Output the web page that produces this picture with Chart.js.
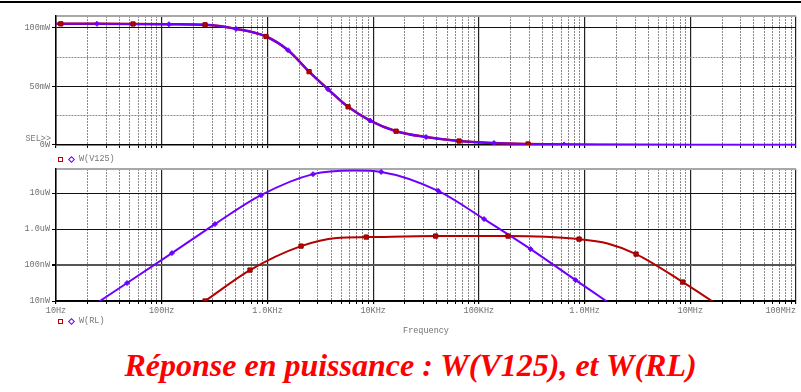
<!DOCTYPE html>
<html lang="fr">
<head>
<meta charset="UTF-8" />
<title>Réponse en puissance</title>
<script src="https://cdn.jsdelivr.net/npm/chart.js"></script>
<style>
  body { margin: 0; width: 801px; height: 392px; background: #fff; position: relative; overflow: hidden; font-family: "Liberation Mono", monospace; }
  .topbar { position: absolute; left: 0; top: 1px; width: 801px; height: 2px; background: #000; }
  #topChart { position: absolute; left: 0; top: 0; }
  #botChart { position: absolute; left: 0; top: 160px; }
  .legend { position: absolute; left: 58px; height: 10px; font-size: 8.5px; color: #777; display: flex; align-items: center; }
  .sq { width: 3px; height: 3px; border: 1.5px solid #c00000; margin-right: 6px; }
  .dia { width: 3px; height: 3px; border: 1.5px solid #6e00ff; transform: rotate(45deg); margin-right: 5px; }
  .sel { position: absolute; right: 750px; top: 134px; font-size: 8.5px; color: #777; }
  .title { position: absolute; left: 10px; top: 347px; width: 801px; text-align: center; color: #ff0000;
           font: italic bold 32px "Liberation Serif", "Times New Roman", serif; }
</style>
</head>
<body>
<div class="topbar"></div>
<canvas id="topChart" width="801" height="152"></canvas>
<canvas id="botChart" width="801" height="180"></canvas>
<div class="sel">SEL&gt;&gt;</div>
<div class="legend" style="top:154px"><span class="sq"></span><span class="dia"></span>W(V125)</div>
<div class="legend" style="top:316px"><span class="sq"></span><span class="dia"></span>W(RL)</div>
<div class="title">Réponse en puissance : W(V125), et W(RL)</div>

<script>
  // ---- data ----
  const freqLabels = ['10Hz', '100Hz', '1.0KHz', '10KHz', '100KHz', '1.0MHz', '10MHz', '100MHz'];
  const topTickLabels = { 0: '0W', 50: '50mW', 100: '100mW' };
  const botTickLabels = ['10nW', '100nW', '1.0uW', '10uW'];

  // top panel : W(V125) in mW (two identical traces)
  const topFreq = [10, 11.1, 24.4, 53.5, 117, 257, 505, 970, 1567, 2477, 3743, 5793, 9354, 16480, 31650, 65000, 139000, 292000, 640000, 1.5e6, 1e7, 1e8];
  const topPow = [103.3, 103.3, 103.3, 103.2, 103.0, 102.5, 99.0, 92.5, 80.8, 62.5, 47.5, 32.5, 20.8, 11.7, 6.7, 3.3, 1.6, 0.8, 0.35, 0.15, 0.02, 0.002];
  const topRedMarks = [11.1, 53.5, 257, 970, 2477, 5793, 16480, 65000, 292000];
  const topBlueMarks = [24.4, 117, 505, 1567, 3743, 9354, 31650, 139000, 640000];

  // bottom panel, blue trace (W)
  const blueFreq = [10, 26, 47, 125, 319, 869, 2700, 6500, 11900, 41200, 112000, 309000, 822000, 1.6e6, 3e6];
  const bluePow = [1.5e-9, 1.0e-8, 3.16e-8, 2.15e-7, 1.38e-6, 8.8e-6, 3.38e-5, 4.27e-5, 3.9e-5, 1.16e-5, 1.9e-6, 2.78e-7, 3.8e-8, 1.0e-8, 2.8e-9];
  const blueMarks = [47, 125, 319, 869, 2700, 11900, 41200, 112000, 309000, 822000];

  // bottom panel, red trace (W)
  const redFreq = [100, 257, 684, 2080, 4500, 8600, 39000, 189000, 887000, 1.65e6, 3.07e6, 8.5e6, 1.6e7, 3e7];
  const redPow = [1.5e-9, 1.0e-8, 7.26e-8, 3.37e-7, 5.7e-7, 6.0e-7, 6.4e-7, 6.4e-7, 5.27e-7, 4.0e-7, 2.02e-7, 3.37e-8, 1.0e-8, 2.8e-9];
  const redMarks = [257, 684, 2080, 8600, 39000, 189000, 887000, 3.07e6, 8.5e6];

  const BLUE = '#6e00ff';
  const RED = '#b30000';
  const TXT = '#707070';
  const MONO = { family: 'Liberation Mono', size: 8.5 };

  const pts = (F, P) => F.map((f, i) => ({ x: f, y: P[i] }));
  const pick = (F, P, marks) => marks.map(m => ({ x: m, y: P[F.indexOf(m)] }));
  const isDecade = v => Math.abs(Math.log10(v) - Math.round(Math.log10(v))) < 1e-6;

  function logTicks(min, max) {
    const t = [];
    for (let e = Math.floor(Math.log10(min)); e <= Math.ceil(Math.log10(max)); e++) {
      for (let m = 1; m < 10; m++) {
        const v = m * Math.pow(10, e);
        if (v >= min * 0.999 && v <= max * 1.001) t.push({ value: v });
      }
    }
    return t;
  }

  // last label is pushed left so it stays inside the window, like the original
  function freqLabel(v) {
    if (!isDecade(v)) return '';
    const i = Math.round(Math.log10(v)) - 1;
    return i === freqLabels.length - 1 ? freqLabels[i] + '      ' : freqLabels[i];
  }

  function xScale(showLabels) {
    return {
      type: 'logarithmic',
      min: 10, max: 1e8,
      afterBuildTicks: s => { s.ticks = logTicks(10, 1e8); },
      afterFit: s => {
        s.height = showLabels ? 39 : 4;
        s.paddingLeft = 0;
        s.paddingRight = 0;
      },
      grid: {
        color: c => (c.tick && isDecade(c.tick.value)) ? '#222' : '#8a8a8a',
        lineWidth: c => (c.tick && isDecade(c.tick.value)) ? 1.2 : 1,
        tickLength: 3,
        tickColor: '#000'
      },
      border: { color: '#000', width: 1.5, dash: c => (c.tick && !isDecade(c.tick.value)) ? [2, 1] : [] },
      ticks: {
        display: showLabels,
        autoSkip: false,
        maxRotation: 0,
        padding: 2,
        color: TXT,
        font: MONO,
        callback: freqLabel
      },
      title: {
        display: showLabels,
        text: 'Frequency',
        color: TXT,
        font: MONO,
        padding: { top: 0, bottom: 4 }
      }
    };
  }

  const common = {
    responsive: false,
    animation: false,
    devicePixelRatio: 1,
    events: [],
    plugins: { legend: { display: false }, tooltip: { enabled: false } },
    elements: { line: { cubicInterpolationMode: 'monotone' } }
  };

  // ---- top panel ----
  new Chart(document.getElementById('topChart'), {
    type: 'line',
    data: {
      datasets: [
        { data: pick(topFreq, topPow, topRedMarks), showLine: false, pointStyle: 'rect', pointRadius: 3, backgroundColor: '#c00000', borderColor: '#8a0000', borderWidth: 1 },
        { data: pick(topFreq, topPow, topBlueMarks), showLine: false, pointStyle: 'rectRot', pointRadius: 2.5, backgroundColor: BLUE, borderColor: BLUE, borderWidth: 1 },
        { data: pts(topFreq, topPow), borderColor: BLUE, borderWidth: 2, pointRadius: 0 },
        { data: pts(topFreq, topPow), borderColor: RED, borderWidth: 2.5, pointRadius: 0 }
      ]
    },
    options: Object.assign({}, common, {
      layout: { padding: { left: 0, right: 5, top: 16, bottom: 0 } },
      scales: {
        x: xScale(false),
        y: {
          min: 0, max: 110,
          afterBuildTicks: s => { s.ticks = [0, 25, 50, 75, 100, 110].map(v => ({ value: v })); },
          afterFit: s => { s.width = 56; },
          grid: {
            color: c => !c.tick ? '#000' : c.tick.value === 110 ? '#a8a8a8' : (c.tick.value % 50 === 0 ? '#111' : '#8a8a8a'),
            lineWidth: c => (c.tick && c.tick.value === 110) ? 2 : 1,
            tickLength: 4,
            tickColor: c => (c.tick && c.tick.value % 50 === 0) ? '#000' : 'rgba(0,0,0,0)'
          },
          border: { color: '#000', width: 1.5, dash: c => (c.tick && c.tick.value % 50 === 25) ? [2, 1] : [] },
          ticks: { padding: 2, color: TXT, font: MONO, callback: v => topTickLabels[v] || '' }
        }
      }
    })
  });

  // ---- bottom panel ----
  new Chart(document.getElementById('botChart'), {
    type: 'line',
    data: {
      datasets: [
        { data: pick(redFreq, redPow, redMarks), showLine: false, pointStyle: 'rect', pointRadius: 3, backgroundColor: '#c00000', borderColor: '#8a0000', borderWidth: 1 },
        { data: pick(blueFreq, bluePow, blueMarks), showLine: false, pointStyle: 'rectRot', pointRadius: 2.5, backgroundColor: BLUE, borderColor: BLUE, borderWidth: 1 },
        { data: pts(blueFreq, bluePow), borderColor: BLUE, borderWidth: 2, pointRadius: 0 },
        { data: pts(redFreq, redPow), borderColor: RED, borderWidth: 2, pointRadius: 0 }
      ]
    },
    options: Object.assign({}, common, {
      layout: { padding: { left: 0, right: 5, top: 9, bottom: 0 } },
      scales: {
        x: xScale(true),
        y: {
          type: 'logarithmic',
          min: 1e-8, max: 4.7e-5,
          afterBuildTicks: s => { s.ticks = [1e-8, 1e-7, 1e-6, 1e-5, 4.7e-5].map(v => ({ value: v })); },
          afterFit: s => { s.width = 56; },
          grid: {
            color: c => (c.tick && !isDecade(c.tick.value)) ? '#a8a8a8' : (c.tick && c.tick.value === 1e-7 ? '#555' : '#111'),
            lineWidth: c => (c.tick && (!isDecade(c.tick.value) || c.tick.value === 1e-7)) ? 2 : 1,
            tickLength: 4,
            tickColor: c => (c.tick && isDecade(c.tick.value)) ? '#000' : 'rgba(0,0,0,0)'
          },
          border: { color: '#000', width: 1.5 },
          ticks: {
            padding: 2, color: TXT, font: MONO, autoSkip: false,
            callback: v => isDecade(v) ? botTickLabels[Math.round(Math.log10(v)) + 8] : ''
          }
        }
      }
    })
  });
</script>
</body>
</html>
